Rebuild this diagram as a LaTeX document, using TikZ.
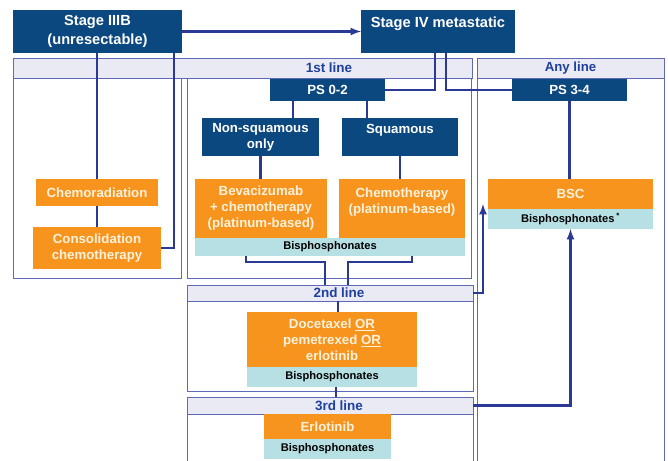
\documentclass[tikz,border=0pt]{standalone}
\usepackage{fontspec}
\setmainfont{Liberation Sans}
\usepackage{tikz}
\usepackage{xcolor}
\definecolor{stageblue}{RGB}{12,72,128}
\definecolor{treatorange}{RGB}{247,148,30}
\definecolor{bisblue}{RGB}{182,224,228}
\definecolor{headfill}{RGB}{234,234,244}
\definecolor{framepurple}{RGB}{96,104,184}
\definecolor{headblue}{RGB}{32,64,160}
\definecolor{linkblue}{RGB}{43,57,150}
\definecolor{creamtext}{RGB}{255,242,220}
\newdimen\px \px=0.03cm
\tikzset{
  box/.style={rectangle, anchor=north west, inner sep=0pt, outer sep=0pt, align=center, font=\bfseries\fontsize{11.3}{13.6}\selectfont},
  sz/.style 2 args={minimum width=#1\px, minimum height=#2\px},
  stagebox/.style={box, fill=stageblue, text=white, font=\bfseries\fontsize{12.5}{16}\selectfont},
  darkbox/.style={box, fill=stageblue, text=white},
  orangebox/.style={box, fill=treatorange, text=creamtext},
  bisband/.style={box, fill=bisblue, text=black, font=\bfseries\fontsize{9.5}{11}\selectfont},
  header/.style={box, draw=framepurple, fill=headfill, line width=0.7pt, text=headblue},
  headtext/.style={text=headblue, inner sep=0pt, font=\bfseries\fontsize{11.5}{13.6}\selectfont},
  panel/.style={draw=framepurple, line width=0.7pt},
  link/.style={draw=linkblue, line width=2pt, >=latex}
}
\begin{document}
\begin{tikzpicture}[x=0.03cm, y=-0.03cm]
  \useasboundingbox (0,0) rectangle (668,461); \clip (0,0) rectangle (668,461);
  \draw[panel] (13,78) rectangle (181,278); \draw[panel] (187,78) rectangle (471,278);
  \draw[panel] (187,301) rectangle (473,391); \draw[panel] (187,414) rectangle (473,480);
  \draw[panel] (477,78) rectangle (664,480);
  \node[header, sz={459}{20}] (hdfirst) at (13,58) {}; \node[headtext] (tfirst) at (329,68) {1st line};
  \node[header, sz={187}{20}] (hdany) at (477,58) {Any line};
  \node[header, sz={286}{16}] (hdsecond) at (187,285) {}; \node[headtext] (tsecond) at (339,293) {2nd line};
  \node[header, sz={286}{17}] (hdthird) at (187,397) {}; \node[headtext] (tthird) at (339,405.5) {3rd line};

  \node[stagebox, sz={169}{43}] (s3b) at (13,10) {Stage IIIB\\(unresectable)};
  \node[stagebox, sz={154}{43}] (s4) at (361,10) {Stage IV metastatic\\~};
  \node[darkbox, sz={115}{22}] (ps02) at (270,79) {PS 0-2};
  \node[darkbox, sz={115}{22}] (ps34) at (512,79) {PS 3-4};
  \node[darkbox, sz={117}{38}] (nonsq) at (202,118) {Non-squamous\\only};
  \node[darkbox, sz={116}{38}] (sq) at (342,118) {Squamous\\~};
  \node[orangebox, sz={122}{27}] (chemorad) at (36,179) {Chemoradiation};
  \node[orangebox, sz={128}{42}] (consol) at (33,227) {Consolidation\\chemotherapy};
  \node[orangebox, sz={132}{59}] (bev) at (195,179) {Bevacizumab\\+ chemotherapy\\(platinum-based)};
  \node[orangebox, sz={126}{59}] (chemo) at (339,179) {Chemotherapy\\(platinum-based)\\~};
  \node[bisband, sz={270}{18}] (bis1) at (195,238) {Bisphosphonates};
  \node[orangebox, sz={165}{30}] (bsc) at (488,179) {BSC};
  \node[bisband, sz={165}{20}] (bis4) at (488,209) {Bisphosphonates\,\textsuperscript{*}};
  \node[orangebox, sz={170}{55}] (doc) at (247,312) {Docetaxel \underline{OR}\\pemetrexed \underline{OR}\\erlotinib};
  \node[bisband, sz={170}{20}] (bis2) at (247,367) {Bisphosphonates};
  \node[orangebox, sz={127}{25}] (erl) at (264,414) {Erlotinib};
  \node[bisband, sz={127}{20}] (bis3) at (264,439) {Bisphosphonates};

  \coordinate (xnon) at (293,0); \coordinate (xsq) at (367,0);
  \coordinate (xbl) at (246,0); \coordinate (xcl) at (325,0);
  \coordinate (xbr) at (412,0); \coordinate (xcr) at (348,0);
  \coordinate (xdoc) at (338,0); \coordinate (xthr) at (336,0);
  \coordinate (tip) at (483,204);

  \draw[link,->] (s3b.east) -- (s4.west);
  \draw[link] (s3b.south -| chemorad.north) -- (chemorad.north); \draw[link] (chemorad.south) -- (consol.north -| chemorad.south);
  \draw[link] ([xshift=-8\px]s3b.south east) |- (consol.east);
  \draw[link] ([xshift=-3\px]s4.south) |- (ps02.east); \draw[link] ([xshift=8\px]s4.south) |- (ps34.west);
  \draw[link] (ps02.south -| xnon) -- (nonsq.north -| xnon); \draw[link] (ps02.south -| xsq) -- (sq.north -| xsq);
  \draw[link] (nonsq.south) -- (nonsq.south |- bev.north); \draw[link] (sq.south) -- (sq.south |- chemo.north);
  \draw[link] (bis1.south -| xbl) -- ++(0,6) -| (hdsecond.north -| xcl);
  \draw[link] (bis1.south -| xbr) -- ++(0,6) -| (hdsecond.north -| xcr);
  \draw[link] (hdsecond.south -| xdoc) -- (doc.north -| xdoc); \draw[link] (bis2.south -| xthr) -- (hdthird.north -| xthr);
  \draw[link] (ps34.south) -- (ps34.south |- bsc.north);
  \draw[link,->] (hdsecond.east) -| (tip); \draw[link,->] (hdthird.east) -| (bis4.south);
\end{tikzpicture}
\end{document}
